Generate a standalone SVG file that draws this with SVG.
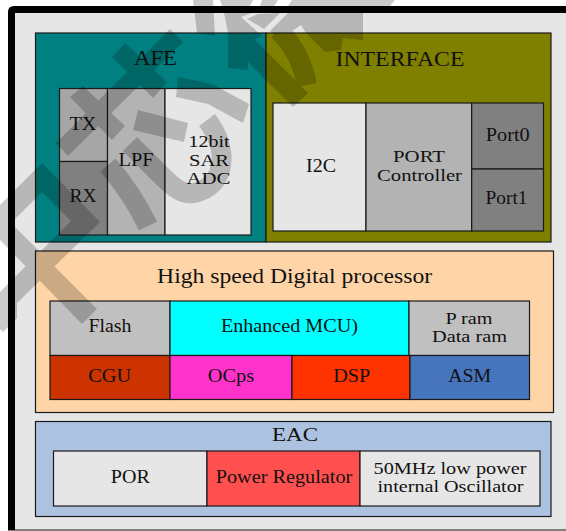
<svg xmlns="http://www.w3.org/2000/svg" width="566" height="531" viewBox="0 0 566 531">
<style>
rect{stroke:#1a1a1a;stroke-width:1.2}
text{font-family:"Liberation Serif","Times New Roman",serif;font-size:18px;fill:#111;text-anchor:middle}
.big{font-size:20px}
.sm{font-size:16px}
.wm{fill:#000;stroke:none}
.wl{fill:none;stroke:#000;stroke-width:20}
</style>
<rect id="page-bg" x="0" y="0" width="566" height="531" style="fill:#fff;stroke:none"/>
<path id="frame" d="M11.500 530V12Q11.500 9.500 14 9.500H566" fill="none" stroke="#000" stroke-width="7"/>
<path d="M15 13H566V529H15Z" fill="#e6e6e6"/>
<path d="M8 530H566" stroke="#000" stroke-width="1.200"/>

<g id="afe"><rect x="35.500" y="33" width="230.500" height="209" fill="#008080"/><text x="155.500" y="64.500" textLength="43" lengthAdjust="spacingAndGlyphs" class="big">AFE</text></g>
<g id="interface"><rect x="266" y="33" width="285" height="209" fill="#808000"/><text x="400" y="66" textLength="129" lengthAdjust="spacingAndGlyphs" class="big">INTERFACE</text></g>
<g id="tx"><rect x="59.500" y="88.500" width="48" height="73" fill="#a6a6a6"/><text x="83" y="130" textLength="27" lengthAdjust="spacingAndGlyphs">TX</text></g>
<g id="rx"><rect x="59.500" y="161.500" width="48" height="73.500" fill="#808080"/><text x="83" y="202" textLength="27" lengthAdjust="spacingAndGlyphs">RX</text></g>
<g id="lpf"><rect x="107.500" y="88.500" width="57.500" height="146.500" fill="#b3b3b3"/><text x="136" y="165.700" textLength="35" lengthAdjust="spacingAndGlyphs">LPF</text></g>
<g id="adc"><rect x="165" y="88.500" width="86" height="146.500" fill="#e6e6e6"/><text x="209" y="147" textLength="41" lengthAdjust="spacingAndGlyphs" class="sm">12bit</text><text x="209" y="165.700" textLength="40" lengthAdjust="spacingAndGlyphs" class="sm">SAR</text><text x="208.500" y="184" textLength="44" lengthAdjust="spacingAndGlyphs" class="sm">ADC</text></g>
<g id="i2c"><rect x="273" y="103" width="93" height="128" fill="#e6e6e6"/><text x="321" y="172" textLength="30" lengthAdjust="spacingAndGlyphs">I2C</text></g>
<g id="port-controller"><rect x="366" y="103" width="105.700" height="128" fill="#b3b3b3"/><text x="419" y="162" textLength="52" lengthAdjust="spacingAndGlyphs" class="sm">PORT</text><text x="419.500" y="181" textLength="85" lengthAdjust="spacingAndGlyphs" class="sm">Controller</text></g>
<g id="port0"><rect x="471.700" y="103" width="71.800" height="66" fill="#808080"/><text x="507.700" y="140.700" textLength="44" lengthAdjust="spacingAndGlyphs">Port0</text></g>
<g id="port1"><rect x="471.700" y="169" width="71.800" height="62" fill="#808080"/><text x="506.500" y="204" textLength="42" lengthAdjust="spacingAndGlyphs">Port1</text></g>

<g id="digital"><rect x="35.500" y="251" width="518" height="161.500" fill="#ffd5a8"/><text x="294.600" y="282.700" textLength="275" lengthAdjust="spacingAndGlyphs" class="big">High speed Digital processor</text></g>
<g id="flash"><rect x="50" y="301" width="120" height="54.500" fill="#c0c0c0"/><text x="110" y="332.300" textLength="43" lengthAdjust="spacingAndGlyphs">Flash</text></g>
<g id="mcu"><rect x="170" y="301" width="239" height="54.500" fill="#00ffff"/><text x="289.400" y="332.300" textLength="137" lengthAdjust="spacingAndGlyphs">Enhanced MCU)</text></g>
<g id="ram"><rect x="409" y="301" width="120.500" height="54.500" fill="#c0c0c0"/><text x="469" y="324" textLength="47" lengthAdjust="spacingAndGlyphs" class="sm">P ram</text><text x="469.500" y="341.700" textLength="75" lengthAdjust="spacingAndGlyphs" class="sm">Data ram</text></g>
<g id="cgu"><rect x="50" y="355.500" width="120" height="44" fill="#cc3300"/><text x="109.700" y="381.700" textLength="43" lengthAdjust="spacingAndGlyphs">CGU</text></g>
<g id="ocps"><rect x="170" y="355.500" width="122" height="44" fill="#ff33cc"/><text x="231" y="381.700" textLength="46.500" lengthAdjust="spacingAndGlyphs">OCps</text></g>
<g id="dsp"><rect x="292" y="355.500" width="118" height="44" fill="#ff3300"/><text x="351.700" y="381.700" textLength="37" lengthAdjust="spacingAndGlyphs">DSP</text></g>
<g id="asm"><rect x="410" y="355.500" width="119.500" height="44" fill="#4775bd"/><text x="469.700" y="381.700" textLength="43" lengthAdjust="spacingAndGlyphs">ASM</text></g>

<g id="eac"><rect x="35.500" y="421.500" width="515.500" height="95" fill="#adc1e0"/><text x="295" y="441" textLength="46" lengthAdjust="spacingAndGlyphs">EAC</text></g>
<g id="por"><rect x="53.500" y="451" width="153.500" height="55" fill="#e6e6e6"/><text x="130.300" y="482.700" textLength="39" lengthAdjust="spacingAndGlyphs">POR</text></g>
<g id="regulator"><rect x="207" y="451" width="153" height="55" fill="#ff5050"/><text x="284" y="483.300" textLength="136.600" lengthAdjust="spacingAndGlyphs">Power Regulator</text></g>
<g id="oscillator"><rect x="360" y="451" width="180" height="55" fill="#e6e6e6"/><text x="450" y="474" textLength="153" lengthAdjust="spacingAndGlyphs" class="sm">50MHz low power</text><text x="450.500" y="492.300" textLength="146" lengthAdjust="spacingAndGlyphs" class="sm">internal Oscillator</text></g>

<g id="watermark" opacity="0.2">
<path class="wm" d="M170 29L183 42L68 156L56 143Z"/>
<path class="wm" d="M112 57L125 43L167 82L153 98Z"/>
<path class="wm" d="M70 97L83 86L125 126L112 140Z"/>
<path class="wm" d="M0 205L42 163L100 222L17 303V318L3 332L0 329V292L71 221L42 192L0 234Z"/>
<path class="wm" d="M0 212L97 309L82 324L0 240Z"/>
<path class="wm" d="M178 77L212 84L249 104L243 123L208 104L176 97Z"/>
<path class="wm" d="M138 110L188 123L184 142L133 130Z"/>
<path class="wl" d="M207 120C230 150 226 186 194 193C178 196 168 182 130 144"/>
<path class="wl" d="M108 165C125 185 138 205 148 226"/>
<path class="wm" d="M193 0H213L215 36L197 33Z"/>
<path class="wm" d="M224 13L252 13L241 17L262 36L248 42L248 70L228 68V33Z"/>
<path class="wm" d="M245 30L308 93L293 107L247 61Z"/>
<path class="wl" d="M278 30Q300 50 307 85"/>
<path class="wm" d="M247 19L258 14L280 13L264 29Z"/>
<path class="wm" d="M288 13L270 31L280 42L292 31L301 25L306 33L325 52L341 50L343 38L363 40V13Z"/>
<path class="wm" d="M220 0H253L250 6H222ZM262 0H278L274 6H260ZM292 0H395L390 6H288Z"/>
</g>
</svg>
